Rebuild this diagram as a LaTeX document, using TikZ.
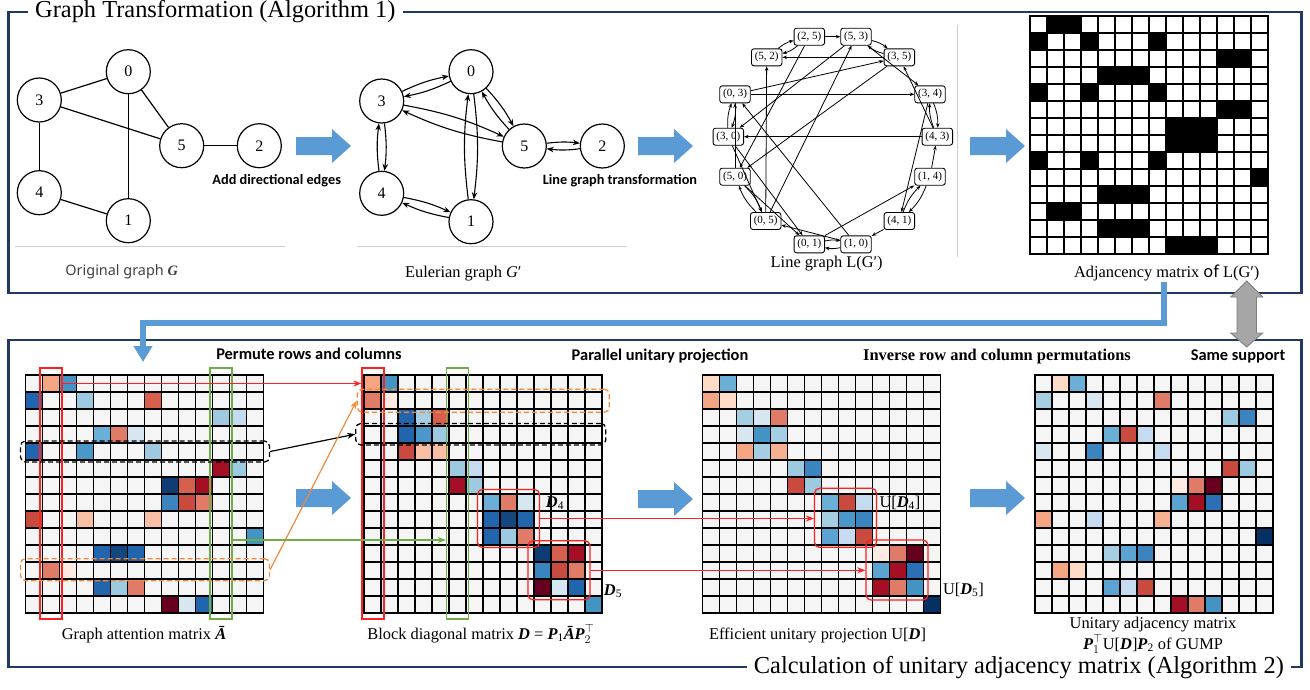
\documentclass[tikz,border=0pt]{standalone}
\usepackage{fontspec}
\setmainfont{Liberation Serif}
\newfontfamily\calibri{Carlito}
\newfontfamily\yahei{Noto Sans}
\usetikzlibrary{arrows.meta,calc}

\definecolor{framecol}{HTML}{203864}
\definecolor{arrblue}{HTML}{5B9BD5}
\definecolor{sepgray}{HTML}{CCCCCC}
\definecolor{cellbg}{HTML}{F5F5F5}
\definecolor{hlred}{HTML}{FF2020}
\definecolor{hlgreen}{HTML}{70AD47}
\definecolor{hlorange}{HTML}{F08A3C}
\definecolor{dblgray}{HTML}{A6A6A6}
\definecolor{dblborder}{HTML}{7F7F7F}
\definecolor{capgray}{HTML}{404040}
\definecolor{kvdb}{HTML}{053061}
\definecolor{kvdbb}{HTML}{0E3C73}
\definecolor{kvdbc}{HTML}{15477F}
\definecolor{kdb}{HTML}{2166AC}
\definecolor{kdbb}{HTML}{2C6FB5}
\definecolor{kmdb}{HTML}{3A84C0}
\definecolor{kmb}{HTML}{4393C3}
\definecolor{kmbb}{HTML}{4A98C9}
\definecolor{kmbc}{HTML}{5BA3D0}
\definecolor{klmb}{HTML}{6BAED6}
\definecolor{klb}{HTML}{9ECAE1}
\definecolor{klbb}{HTML}{A6CEE3}
\definecolor{kvlb}{HTML}{C6DBEF}
\definecolor{kvlbb}{HTML}{D6E7F2}
\definecolor{kvdr}{HTML}{67001F}
\definecolor{kdr}{HTML}{A50F26}
\definecolor{krd}{HTML}{C94A3F}
\definecolor{krr}{HTML}{D6604D}
\definecolor{kro}{HTML}{E07B67}
\definecolor{klo}{HTML}{F4A582}
\definecolor{kloo}{HTML}{F6B092}
\definecolor{klp}{HTML}{F8BFA4}
\definecolor{kvlp}{HTML}{FDDBC7}
\definecolor{kvvlp}{HTML}{FCEAE3}

% #1 x, #2 y, #3 background, #4 grid colour, #5 cells r/c/colour
\newcommand\heatmatrix[5]{%
  \fill[#3] (#1,#2) rectangle ++(238,238);
  \foreach \rr/\cc/\kk in {#5} {\fill[\kk] ({#1+\cc*17},{#2+\rr*17}) rectangle ++(17,17);}
  \foreach \ii in {0,...,14} {
    \draw[gridln,#4] ({#1+\ii*17},#2) -- ++(0,238);
    \draw[gridln,#4] (#1,{#2+\ii*17}) -- ++(238,0);
  }
}
\newcommand\bi[1]{{\bfseries\itshape #1}}

\begin{document}
\begin{tikzpicture}[x=1pt,y=-1pt,
  gridln/.style={line width=1.1pt, line cap=rect},
  frame/.style={draw=framecol, line width=2.3pt},
  ttl/.style={font=\fontsize{24.4}{27}\selectfont, fill=white, inner xsep=7pt, inner ysep=0pt},
  boldhead/.style={font=\calibri\bfseries\fontsize{16.4}{18}\selectfont},
  smallhead/.style={font=\calibri\bfseries\fontsize{14.3}{16}\selectfont},
  capt/.style={font=\fontsize{16.4}{18}\selectfont},
  sepline/.style={draw=sepgray, line width=0.9pt},
  gnode/.style={circle, draw, line width=1.2pt, minimum size=44pt, inner sep=0pt, font=\fontsize{16}{17}\selectfont},
  gedge/.style={line width=1.2pt},
  eedge/.style={line width=1.1pt, -{Stealth[length=7pt,width=5.5pt]}},
  lgnode/.style={draw, rounded corners=2.5pt, minimum width=30.5pt, minimum height=17pt, inner sep=0.5pt, fill=white, line width=0.9pt, font=\fontsize{11}{12}\selectfont},
  lgedge/.style={line width=0.8pt, -{Stealth[length=4.5pt,width=3.5pt]}},
  hlbox/.style={draw=#1, line width=1.3pt, inner sep=0pt},
  rbox/.style={draw=#1, line width=1.3pt, inner sep=0pt, rounded corners=5pt},
  dbox/.style={draw=#1, line width=1.3pt, inner sep=0pt, rounded corners=5pt, dash pattern=on 5pt off 3pt},
  conn/.style={line width=1.2pt, -{Stealth[length=8pt,width=6pt]}},
  sublab/.style={font=\fontsize{16.4}{18}\selectfont},
  bluearrow/.pic={\fill[arrblue] (0,-9) -- (36,-9) -- (36,-17) -- (55,0) -- (36,17) -- (36,9) -- (0,9) -- cycle;}
]
\useasboundingbox (0,0) rectangle (1310,689);
\fill[white] (0,0) rectangle (1310,689);

% ---------- frames ----------
\draw[frame] (8.5,12) rectangle (1301.5,293);
\draw[frame] (8.5,340) rectangle (1301.5,667);
\node[ttl, anchor=west] (ttop) at (28,12) {Graph Transformation (Algorithm 1)};
\node[ttl, anchor=east] (tbot) at (1291,668) {Calculation of unitary adjacency matrix (Algorithm 2)};

% ---------- original graph ----------
\node[gnode] (g0) at (128.3,71.7) {0};
\node[gnode] (g3) at (39.3,100) {3};
\node[gnode] (g5) at (181.7,145.7) {5};
\node[gnode] (g2) at (259.3,145.7) {2};
\node[gnode] (g4) at (39.3,192.7) {4};
\node[gnode] (g1) at (128.3,220.7) {1};
\draw[gedge] (g3) -- (g0);
\draw[gedge] (g0) -- (g5);
\draw[gedge] (g3) -- (g5);
\draw[gedge] (g0) -- (g1);
\draw[gedge] (g3) -- (g4);
\draw[gedge] (g4) -- (g1);
\draw[gedge] (g5) -- (g2);
\draw[sepline] (15,246.7) -- (285,246.7);
\node[font=\yahei\fontsize{14.4}{16}\selectfont, text=capgray] (capG) at (121.7,271.5) {Original graph {\rmfamily\bfseries\itshape G}};
\node[smallhead] (lab1) at (276.7,181) {Add directional edges};
\pic at (296,146) {bluearrow};

% ---------- Eulerian graph ----------
\node[gnode] (e0) at (471,71.7) {0};
\node[gnode] (e3) at (381.7,101) {3};
\node[gnode] (e5) at (524.3,146) {5};
\node[gnode] (e2) at (602.3,146) {2};
\node[gnode] (e4) at (381.7,193.3) {4};
\node[gnode] (e1) at (471,221.7) {1};
\foreach \a/\b in {e3/e0,e0/e5,e3/e5,e0/e1,e3/e4,e4/e1,e5/e2} {
  \draw[eedge] (\a) to[bend left=7] (\b);
  \draw[eedge] (\b) to[bend left=7] (\a);
}
\draw[sepline] (357,246.7) -- (627,246.7);
\node[capt] (capE) at (463.3,273.3) {Eulerian graph {\itshape G}′};
\node[smallhead] (lab2) at (620,181) {Line graph transformation};
\pic at (638,146) {bluearrow};

% ---------- line graph ----------
\node[lgnode] (n25) at (809.3,36.7) {(2, 5)};
\node[lgnode] (n53) at (856,36.7) {(5, 3)};
\node[lgnode] (n52) at (766.7,57.3) {(5, 2)};
\node[lgnode] (n35) at (899.3,57.3) {(3, 5)};
\node[lgnode] (n03) at (735,94.3) {(0, 3)};
\node[lgnode] (n34) at (930,94.3) {(3, 4)};
\node[lgnode] (n30) at (728.3,136.7) {(3, 0)};
\node[lgnode] (n43) at (937.3,136.7) {(4, 3)};
\node[lgnode] (n50) at (735,176.7) {(5, 0)};
\node[lgnode] (n14) at (930,176.7) {(1, 4)};
\node[lgnode] (n05) at (765.7,221) {(0, 5)};
\node[lgnode] (n41) at (899.3,221) {(4, 1)};
\node[lgnode] (n01) at (809.3,244.3) {(0, 1)};
\node[lgnode] (n10) at (856,244.3) {(1, 0)};
\foreach \a/\b in {n03/n30,n50/n05,n01/n10,n41/n14,n43/n34,n35/n53,n25/n52} {
  \draw[lgedge] (\a) to[bend left=12] (\b);
  \draw[lgedge] (\b) to[bend left=12] (\a);
}
\foreach \a/\b in {n03/n35,n03/n34,n30/n05,n30/n01,n05/n53,n05/n52,n50/n03,n50/n01,
                   n01/n14,n10/n03,n10/n05,n35/n50,n35/n52,n53/n30,n53/n34,n34/n41,
                   n43/n30,n43/n35,n41/n10,n14/n43,n25/n50,n25/n53} {
  \draw[lgedge] (\a) -- (\b);
}
\draw[sepline] (957.7,25) -- (957.7,257);
\node[capt] (capL) at (826.7,264) {Line graph L(G′)};
\pic at (970,146) {bluearrow};

% ---------- adjacency matrix ----------
\heatmatrix{1030}{16}{white}{black}{0/1/black,0/2/black,1/0/black,1/3/black,1/7/black,2/11/black,2/12/black,
 3/4/black,3/5/black,3/6/black,4/0/black,4/3/black,4/7/black,5/11/black,5/12/black,
 6/8/black,6/9/black,6/10/black,7/8/black,7/9/black,7/10/black,8/0/black,8/3/black,8/7/black,
 9/13/black,10/4/black,10/5/black,10/6/black,11/1/black,11/2/black,12/4/black,12/5/black,12/6/black,
 13/8/black,13/9/black,13/10/black}
\node[capt] (capM) at (1166.7,273.3) {Adjancency matrix {\yahei of} L(G′)};

% ---------- bottom headers ----------
\node[boldhead] (h1) at (309,354) {Permute rows and columns};
\node[boldhead] (h2) at (660,356) {Parallel unitary projection};
\node[font=\bfseries\fontsize{16.4}{18}\selectfont] (h3) at (997,357) {Inverse row and column permutations};
\node[boldhead] (h4) at (1238,356.5) {Same support};

% ---------- matrix A ----------
\heatmatrix{25.5}{375}{cellbg}{black}{0/1/klo,0/2/kmb,1/0/kdb,1/3/klb,1/7/krr,2/11/klb,2/12/kvlb,3/4/klmb,3/5/kro,3/6/kvlbb,
 4/0/kdb,4/3/kmbb,4/7/klb,5/11/kdr,5/12/klb,6/8/kvdbb,6/9/krr,6/10/kdr,7/8/kmdb,7/9/krd,7/10/kro,
 8/0/krd,8/3/klp,8/7/klp,9/13/kmb,10/4/kdb,10/5/kvdbc,10/6/kdb,11/1/kro,11/2/kvvlp,12/4/kdb,12/5/klb,12/6/kro,
 13/8/kvdr,13/9/kvlbb,13/10/kdb}
\node[hlbox=hlred, minimum width=22pt, minimum height=251pt] (redA) at (51,493.5) {};
\node[hlbox=hlgreen, minimum width=22pt, minimum height=251pt] (greenA) at (221,493.5) {};
\node[dbox=black, minimum width=249pt, minimum height=21pt] (blackA) at (145,451.5) {};
\node[dbox=hlorange, minimum width=249pt, minimum height=22pt] (orangeA) at (145,569.7) {};
\node[capt] (capA) at (144,634.5) {Graph attention matrix \bi{Ā}};
\pic at (296,498) {bluearrow};

% ---------- matrix D ----------
\heatmatrix{364}{375}{cellbg}{black}{0/0/klo,0/1/kmb,1/0/kro,1/1/kvvlp,2/2/kdb,2/3/klbb,2/4/krr,3/2/kdb,3/3/kmbb,3/4/klb,
 4/2/krd,4/3/klp,4/4/klp,5/5/klb,5/6/kvlb,6/5/kdr,6/6/klb,7/7/klmb,7/8/kro,7/9/kvlbb,8/7/kdb,8/8/kvdbc,8/9/kdb,
 9/7/kdb,9/8/klb,9/9/kro,10/10/kvdbb,10/11/krr,10/12/kdr,11/10/kmdb,11/11/krd,11/12/kro,12/10/kvdr,12/11/kvlbb,12/12/kdb,
 13/13/kmb}
\node[hlbox=hlred, minimum width=22pt, minimum height=251pt] (redD) at (373,493.5) {};
\node[hlbox=hlgreen, minimum width=22pt, minimum height=251pt] (greenD) at (457.5,493.5) {};
\node[dbox=hlorange, minimum width=252pt, minimum height=23pt] (orangeD) at (483.3,400.7) {};
\node[dbox=black, minimum width=250pt, minimum height=21.5pt] (blackD) at (480.8,434.2) {};
\node[rbox=hlred, minimum width=62pt, minimum height=58pt] (D4) at (508.5,518.5) {};
\node[rbox=hlred, minimum width=62pt, minimum height=59pt] (D5) at (559,570.3) {};
\node[sublab] (D4l) at (555,503) {\bi{D}\textsubscript{4}};
\node[sublab] (D5l) at (613,591) {\bi{D}\textsubscript{5}};
\node[capt] (capD) at (481,634) {Block diagonal matrix \bi{D} = \bi{P}\textsubscript{1}\bi{Ā}\bi{P}$_2^{\top}$};
\pic at (638,499) {bluearrow};

% ---------- matrix U[D] ----------
\heatmatrix{702.5}{375}{cellbg}{black}{0/0/kvlp,0/1/klmb,1/0/klo,1/1/kvlp,2/2/klbb,2/3/kvlbb,2/4/kro,3/2/kvlbb,3/3/kmb,3/4/klbb,
 4/2/klo,4/3/klbb,4/4/kloo,5/5/klb,5/6/kmdb,6/5/krd,6/6/klb,7/7/klmb,7/8/krd,7/9/kvlb,8/7/klbb,8/8/kmbb,8/9/kmdb,
 9/7/kmbc,9/8/kvlb,9/9/krd,10/10/kvvlp,10/11/kro,10/12/kvdr,11/10/kmbc,11/11/kdr,11/12/kdbb,12/10/kdr,12/11/kro,12/12/kmb,
 13/13/kvdb}
\node[rbox=hlred, minimum width=62pt, minimum height=59pt] (UD4) at (845.5,517.8) {};
\node[rbox=hlred, minimum width=62pt, minimum height=60pt] (UD5) at (897,570) {};
\node[sublab] (UD4l) at (900,503) {U[\bi{D}\textsubscript{4}]};
\node[sublab] (UD5l) at (963.5,590) {U[\bi{D}\textsubscript{5}]};
\node[capt] (capU) at (817.5,635) {Efficient unitary projection U[\bi{D}]};
\pic at (970,498) {bluearrow};

% ---------- unitary adjacency ----------
\heatmatrix{1035}{375}{cellbg}{black}{0/1/kvlp,0/2/klmb,1/0/klbb,1/3/kvlbb,1/7/kro,2/11/klb,2/12/kmdb,3/4/klmb,3/5/krd,3/6/kvlb,
 4/0/kvlbb,4/3/kmdb,4/7/kvlb,5/11/krd,5/12/klb,6/8/kvvlp,6/9/kro,6/10/kvdr,7/8/kmbc,7/9/kdr,7/10/kdbb,
 8/0/klo,8/3/kvlb,8/7/kloo,9/13/kvdb,10/4/klbb,10/5/kmbc,10/6/kmdb,11/1/klo,11/2/kvlp,12/4/kmbc,12/5/kvlb,12/6/krd,
 13/8/kdr,13/9/kro,13/10/kmb}
\node[capt] (capUA1) at (1153,625) {Unitary adjacency matrix};
\node[capt] (capUA2) at (1153,644) {\bi{P}$_1^{\top}$U[\bi{D}]\bi{P}\textsubscript{2} of GUMP};

% ---------- connectors ----------
\coordinate (r0) at (0,383.5);
\coordinate (gr0) at (0,540);
\draw[hlred, conn] (redA.east |- r0) -- (redD.west |- r0);
\draw[black, conn] (blackA.east) -- (blackD.west);
\draw[hlorange, conn] (orangeA.east) -- (orangeD.west);
\draw[hlgreen, conn] (greenA.east |- gr0) -- (greenD.west |- gr0);
\draw[hlred, conn] (D4.east) -- (UD4.west |- D4.east);
\draw[hlred, conn] (D5.east) -- (UD5.west |- D5.east);

% ---------- links between frames ----------
\coordinate (bs) at (1164,281.5);
\coordinate (be) at (143,362);
\coordinate (bm) at (0,323);
\draw[arrblue, line width=6pt, line join=miter, -{Triangle[length=16pt,width=18pt]}]
  (bs) -- (bs |- bm) -- (be |- bm) -- (be);
\fill[dblgray, draw=dblborder, line width=0.8pt]
  (1246.7,281) -- (1262.7,297) -- (1256.5,297) -- (1256.5,333) -- (1262.7,333) -- (1246.7,347)
  -- (1230.7,333) -- (1237,333) -- (1237,297) -- (1230.7,297) -- cycle;
\end{tikzpicture}
\end{document}
